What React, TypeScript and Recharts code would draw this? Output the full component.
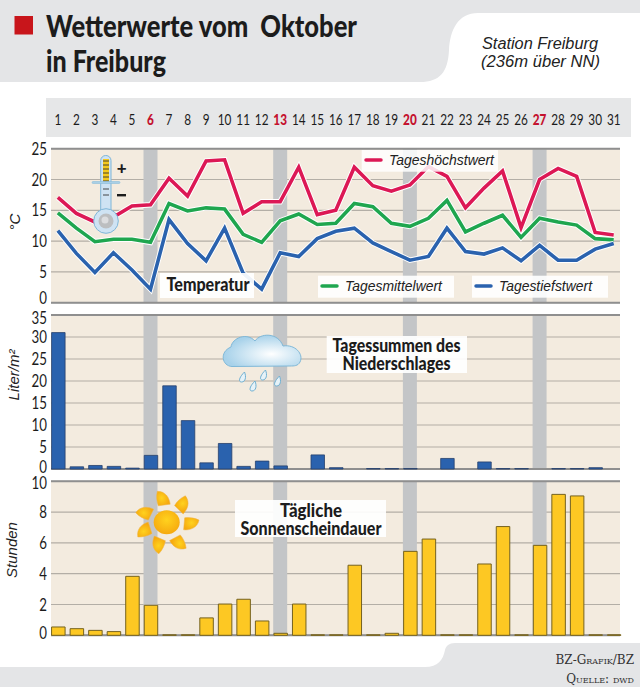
import React from 'react';
import { ComposedChart, Line, Bar, XAxis, YAxis, CartesianGrid, ReferenceLine } from 'recharts';

const days = [1,2,3,4,5,6,7,8,9,10,11,12,13,14,15,16,17,18,19,20,21,22,23,24,25,26,27,28,29,30,31];
const sundays = [6, 13, 20, 27];
const high = [17.1,14.5,13.1,13.9,15.7,15.9,20.2,17.3,23.0,23.2,14.5,16.4,16.4,22.0,14.3,15.0,22.0,19.0,18.1,19.1,22.1,20.5,15.4,18.6,21.4,12.2,20.0,21.8,20.5,11.4,11.0];
const mean = [14.6,12.1,9.9,10.3,10.3,9.8,16.1,14.9,15.4,15.2,11.1,9.8,13.3,14.4,12.7,12.9,16.1,15.6,12.9,12.4,13.7,16.6,11.5,12.9,14.2,10.6,13.7,13.1,12.6,10.4,10.2];
const low = [11.7,8.0,4.9,8.1,5.3,2.2,13.5,9.6,6.8,12.1,4.8,2.2,8.1,7.5,10.4,11.6,12.1,9.7,8.3,6.9,7.5,12.1,8.3,7.9,8.9,6.8,9.3,6.9,6.9,8.7,9.6];
const rain = [31,0.5,0.8,0.6,0.2,3.1,18.9,11,1.4,5.8,0.6,1.8,0.7,0,3.2,0.3,0,0.1,0.1,0.1,0,2.4,0,1.6,0.1,0.1,0,0.1,0.1,0.3,0];
const sun = [0.54,0.43,0.32,0.24,3.83,1.95,0.03,0.03,1.13,2.03,2.34,0.93,0.13,2.03,0.03,0.03,4.55,0.03,0.13,5.45,6.25,0.03,0.03,4.63,7.06,0.03,5.84,9.15,9.05,0.03,0.03];

const tempTicks = [0, 5, 10, 15, 20, 25];
const rainTicks = [0, 5, 10, 15, 20, 25, 30, 35];
const sunTicks = [0, 2, 4, 6, 8, 10];

const tempData = days.map((day, i) => ({ day, high: high[i], mean: mean[i], low: low[i] }));
const rainData = days.map((day, i) => ({ day, rain: rain[i] }));
const sunData = days.map((day, i) => ({ day, sun: sun[i] }));

const BODY = 'Lato, "Noto Sans", sans-serif';
const ITALIC = '"Liberation Sans", Arial, sans-serif';
const xDomain: [number, number] = [0.63, 31.34];

const DayTick = ({ x, payload }: any) => {
  const red = sundays.includes(payload.value);
  return (
    <text
      transform={`translate(${x},35) scale(0.76,1)`}
      textAnchor="middle"
      fontFamily={BODY}
      fontSize={15.5}
      fontWeight={red ? 900 : 400}
      fill={red ? '#c4122f' : '#1c1c1c'}
    >
      {payload.value}
    </text>
  );
};

// the lowest and highest labels sit a little off their grid lines in the original
const ValueTick = ({ y, payload, max, zeroDy, topDy }: any) => {
  const dy = payload.value === 0 ? zeroDy : payload.value === max ? topDy : 6;
  return (
    <text
      transform={`translate(47,${y + dy}) scale(0.76,1)`}
      textAnchor="end"
      fontFamily={BODY}
      fontSize={17.5}
      fill="#1c1c1c"
    >
      {payload.value}
    </text>
  );
};

function panelParts(max: number, ticks: number[], zeroDy: number, topDy: number) {
  return [
    <CartesianGrid key="grid" horizontal vertical={false} stroke="#b3aea6" strokeWidth={1.2} fill="#f3ebdf" syncWithTicks />,
    ...sundays.map(d => <ReferenceLine key={d} x={d} stroke="#c3c5c7" strokeWidth={14} zIndex={50} />),
    <ReferenceLine key="top" y={max} stroke="#8f8f8f" strokeWidth={2} zIndex={60} />,
    <ReferenceLine key="base" y={0} stroke="#8f8f8f" strokeWidth={2} zIndex={60} />,
    <YAxis key="y" type="number" domain={[0, max]} ticks={ticks} interval={0} width={51} axisLine={false} tickLine={false} tick={<ValueTick max={max} zeroDy={zeroDy} topDy={topDy} />} />,
  ];
}

const Thermometer = () => (
  <g>
    <rect x={100.7} y={155.5} width={10.3} height={60} rx={5} fill="#cfe3f3" stroke="#7fb6d8" strokeWidth={1} />
    <rect x={103} y={159} width={6} height={22} fill="#f4c91e" />
    {[161, 165, 169, 173, 177, 181, 189, 195].map(y => (
      <line key={y} x1={103} x2={109} y1={y} y2={y} stroke="#333" strokeWidth={0.9} />
    ))}
    <rect x={92} y={181.5} width={28} height={2} rx={1} fill="#a9cfe6" stroke="#7fb6d8" strokeWidth={0.5} />
    <circle cx={106} cy={221} r={12.3} fill="#cfe3f3" stroke="#7fb6d8" strokeWidth={1} />
    <circle cx={106} cy={221} r={7.5} fill="#bcbec0" />
    <circle cx={105} cy={220} r={3.5} fill="#dcdddf" />
    <text x={121.7} y={174} textAnchor="middle" fontFamily={BODY} fontWeight={900} fontSize={17} fill="#1c1c1c">+</text>
    <rect x={117} y={194} width={9} height={2.4} fill="#1c1c1c" />
  </g>
);

const Cloud = () => (
  <g>
    <defs>
      <radialGradient id="cloudFill" cx="0.62" cy="0.6" r="0.6">
        <stop offset="0%" stopColor="#ffffff" />
        <stop offset="100%" stopColor="#a8d2ea" />
      </radialGradient>
    </defs>
    <path
      d="M232 366.5 C222 366 219 352 231 347 C232 338 247 332 255 341 C260 333 278 332 283 346 C295 344 304 354 300 362 C298 366 294 366 290 366 Z"
      fill="url(#cloudFill)"
      stroke="#7fb8d8"
      strokeWidth={1}
    />
    {[[242.5, 378], [263.5, 376], [253, 387], [277.5, 382]].map(([x, y]) => (
      <path
        key={x}
        d={`M${x + 2} ${y - 6} C${x + 4} ${y - 1} ${x + 3} ${y + 4} ${x - 1} ${y + 4} C${x - 4} ${y + 4} ${x - 4} ${y} ${x + 2} ${y - 6} Z`}
        fill="#e6f2f8"
        stroke="#6fb0d2"
        strokeWidth={1}
      />
    ))}
  </g>
);

const rayAngles = [-98, -46, 5, 62, 113, 162, 206];

const Sun = () => (
  <g>
    <defs>
      <radialGradient id="sunFill" cx="0.5" cy="0.4" r="0.6">
        <stop offset="0%" stopColor="#ffd21e" />
        <stop offset="100%" stopColor="#f6a90f" />
      </radialGradient>
    </defs>
    {rayAngles.map(a => (
      <path
        key={a}
        transform={`translate(166.7,522.3) rotate(${a})`}
        d="M17.5 -6 L17.5 6 C24 6 31 3 32 -5 C27 -7 22 -7 17.5 -6 Z"
        fill="url(#sunFill)"
        stroke="#eeb44a"
        strokeWidth={0.5}
      />
    ))}
    <ellipse cx={166.7} cy={522.3} rx={13} ry={12} fill="url(#sunFill)" />
  </g>
);

const Swatch = ({ x, y, color }: { x: number; y: number; color: string }) => (
  <line x1={x} x2={x + 15} y1={y} y2={y} stroke={color} strokeWidth={3.5} strokeLinecap="round" />
);

const LegendText = ({ x, y, width, children }: any) => (
  <text x={x} y={y} fontFamily={ITALIC} fontStyle="italic" fontSize={14} fill="#222" textLength={width} lengthAdjust="spacingAndGlyphs">
    {children}
  </text>
);

const Heading = ({ x, y, width, children }: any) => (
  <text x={x - width / 2} y={y} fontFamily={BODY} fontWeight={900} fontSize={18} fill="#1c1c1c" textLength={width} lengthAdjust="spacingAndGlyphs">
    {children}
  </text>
);

const AxisLabel = ({ x, y, children }: any) => (
  <text transform={`translate(${x},${y}) rotate(-90)`} textAnchor="middle" fontFamily={ITALIC} fontStyle="italic" fontSize={15} fill="#222">
    {children}
  </text>
);

export default function App() {
  return (
    <div style={{ position: 'absolute', left: 0, top: 0, width: 640, height: 687, background: '#fff', overflow: 'hidden' }}>
      {/* header, date strip and footer shapes */}
      <svg width={640} height={687} style={{ position: 'absolute', left: 0, top: 0 }}>
        <path d="M0 0H640V13H478C458 13 450 30 449 50C448 72 440 82 420 82H0Z" fill="#e4e5e7" />
        <rect x={46} y={98} width={585} height={39} fill="#e6e7e8" />
        <path d="M0 667H425C438 667 443 660 445 650C446 646 449 643 455 643H640V687H0Z" fill="#e4e5e7" />
      </svg>

      <div style={{ position: 'absolute', left: 0, top: 90 }}>
        <ComposedChart width={640} height={220} data={tempData} margin={{ top: 28.7, right: 20, bottom: 7.3, left: 0 }}>
          {panelParts(25, tempTicks, 1.5, 6.5)}
          <XAxis dataKey="day" type="number" orientation="top" height={30} domain={xDomain} ticks={days} interval={0} axisLine={false} tickLine={false} tick={<DayTick />} />
          <Line dataKey="high" stroke="#fff" strokeWidth={5.5} dot={false} isAnimationActive={false} />
          <Line dataKey="high" stroke="#dc1855" strokeWidth={3.6} dot={false} isAnimationActive={false} />
          <Line dataKey="mean" stroke="#fff" strokeWidth={5.5} dot={false} isAnimationActive={false} />
          <Line dataKey="mean" stroke="#1fa64f" strokeWidth={3.6} dot={false} isAnimationActive={false} />
          <Line dataKey="low" stroke="#fff" strokeWidth={5.5} dot={false} isAnimationActive={false} />
          <Line dataKey="low" stroke="#2a62ae" strokeWidth={3.6} dot={false} isAnimationActive={false} />
        </ComposedChart>
      </div>

      <div style={{ position: 'absolute', left: 0, top: 305 }}>
        <ComposedChart width={640} height={175} data={rainData} margin={{ top: 10, right: 20, bottom: 11, left: 0 }}>
          {panelParts(35, rainTicks, 4.3, 8.5)}
          <XAxis dataKey="day" type="number" hide domain={xDomain} ticks={days} />
          <Bar dataKey="rain" barSize={13.5} fill="#2a62ae" stroke="#27406b" strokeWidth={0.8} isAnimationActive={false} />
        </ComposedChart>
      </div>

      <div style={{ position: 'absolute', left: 0, top: 470 }}>
        <ComposedChart width={640} height={175} data={sunData} margin={{ top: 11.3, right: 20, bottom: 9.7, left: 0 }}>
          {panelParts(10, sunTicks, 4, 8)}
          <XAxis dataKey="day" type="number" hide domain={xDomain} ticks={days} />
          <Bar dataKey="sun" barSize={13.5} fill="#fdc823" stroke="#75621f" strokeWidth={1} isAnimationActive={false} />
        </ComposedChart>
      </div>

      {/* titles, labels and icons on top of the charts */}
      <svg width={640} height={687} style={{ position: 'absolute', left: 0, top: 0 }}>
        <rect x={14.5} y={16} width={18.5} height={18.5} fill="#c8151b" />
        <text x={46} y={37} fontFamily={BODY} fontWeight={900} fontSize={30} fill="#1c1c1c" textLength={311} lengthAdjust="spacingAndGlyphs" xmlSpace="preserve">Wetterwerte vom  Oktober</text>
        <text x={46} y={72} fontFamily={BODY} fontWeight={900} fontSize={30} fill="#1c1c1c" textLength={120} lengthAdjust="spacingAndGlyphs">in Freiburg</text>
        <text x={482} y={49} fontFamily={ITALIC} fontStyle="italic" fontSize={16} fill="#222" textLength={116} lengthAdjust="spacingAndGlyphs">Station Freiburg</text>
        <text x={481} y={67} fontFamily={ITALIC} fontStyle="italic" fontSize={16} fill="#222" textLength={119} lengthAdjust="spacingAndGlyphs">(236m über NN)</text>

        <AxisLabel x={20} y={222}>°C</AxisLabel>
        <AxisLabel x={19} y={375}>Liter/m²</AxisLabel>
        <AxisLabel x={17} y={550}>Stunden</AxisLabel>

        <rect x={361.7} y={150} width={136.3} height={21.7} fill="#fff" fillOpacity={0.85} />
        <Swatch x={366} y={160} color="#dc1855" />
        <LegendText x={389} y={165} width={105}>Tageshöchstwert</LegendText>
        <rect x={318} y={275.7} width={136} height={22} fill="#fff" fillOpacity={0.9} />
        <Swatch x={322} y={286} color="#1fa64f" />
        <LegendText x={345} y={291} width={97}>Tagesmittelwert</LegendText>
        <rect x={472} y={275.7} width={136} height={22} fill="#fff" fillOpacity={0.9} />
        <Swatch x={476} y={286} color="#2a62ae" />
        <LegendText x={499} y={291} width={93}>Tagestiefstwert</LegendText>

        <rect x={160} y={273} width={94} height={25} fill="#fff" fillOpacity={0.92} />
        <Heading x={208} y={291} width={83}>Temperatur</Heading>
        <rect x={326.7} y={336} width={140.3} height={37} fill="#fff" fillOpacity={0.92} />
        <Heading x={396.5} y={352} width={128}>Tagessummen des</Heading>
        <Heading x={396.5} y={370} width={108}>Niederschlages</Heading>
        <rect x={235} y={500} width={151} height={37} fill="#fff" fillOpacity={0.92} />
        <Heading x={311} y={517} width={62}>Tägliche</Heading>
        <Heading x={311} y={535} width={141}>Sonnenscheindauer</Heading>

        <Thermometer />
        <Cloud />
        <Sun />

        <text x={634} y={664} textAnchor="end" fontFamily='"DejaVu Serif", serif' fontSize={12} fill="#333" style={{ fontVariant: 'small-caps' }}>BZ-Grafik/BZ</text>
        <text x={634} y={683} textAnchor="end" fontFamily='"DejaVu Serif", serif' fontSize={12} fill="#333" style={{ fontVariant: 'small-caps' }}>Quelle: dwd</text>
      </svg>
    </div>
  );
}
